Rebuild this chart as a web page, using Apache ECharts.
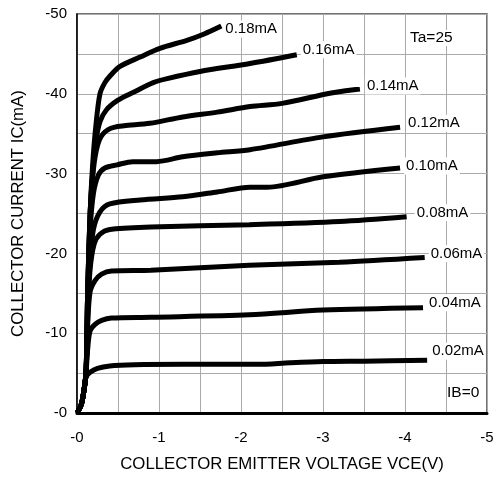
<!DOCTYPE html>
<html>
<head>
<meta charset="utf-8">
<script src="https://cdn.jsdelivr.net/npm/echarts@6/dist/echarts.min.js"></script>
<style>
html,body{margin:0;padding:0;background:#fff;}
#chart{width:497px;height:480px;}
</style>
</head>
<body>
<div id="chart"></div>
<script>
// Base current labels (IB)
const curveNames = ['0.18mA','0.16mA','0.14mA','0.12mA','0.10mA','0.08mA','0.06mA','0.04mA','0.02mA'];

// [VCE (V), IC (mA)]
const ib018 = [[0,0],[-0.05,-1],[-0.08,-2.5],[-0.11,-5],[-0.13,-15],[-0.16,-25],[-0.19,-31],[-0.23,-36],[-0.28,-40],[-0.34,-41.4],[-0.4,-42.2],[-0.52,-43.4],[-0.77,-44.6],[-1.01,-45.7],[-1.34,-46.7],[-1.55,-47.5],[-1.76,-48.5]];
const ib016 = [[0,0],[-0.05,-1],[-0.08,-2.5],[-0.11,-5],[-0.13,-15],[-0.16,-25],[-0.19,-30],[-0.23,-34],[-0.28,-36.5],[-0.36,-38.0],[-0.5,-39.2],[-0.69,-40.2],[-0.93,-41.4],[-1.1,-41.9],[-1.5,-42.8],[-2.11,-43.8],[-2.68,-44.9]];
const ib014 = [[0,0],[-0.05,-1],[-0.08,-2.5],[-0.11,-5],[-0.13,-15],[-0.16,-25],[-0.2,-30.5],[-0.25,-33.5],[-0.32,-35],[-0.45,-35.8],[-0.89,-36.3],[-1.29,-37.1],[-1.71,-37.7],[-2.11,-38.4],[-2.5,-38.8],[-3.1,-40.1],[-3.45,-40.6]];
const ib012 = [[0,0],[-0.05,-1],[-0.08,-2.5],[-0.11,-5],[-0.13,-15],[-0.16,-23],[-0.2,-27.5],[-0.26,-29.8],[-0.34,-30.7],[-0.49,-31.1],[-0.68,-31.5],[-0.97,-31.5],[-1.29,-32.1],[-1.71,-32.6],[-2.11,-33.0],[-3.0,-34.6],[-3.94,-35.8]];
const ib010 = [[0,0],[-0.05,-1],[-0.08,-2.5],[-0.11,-5],[-0.13,-13],[-0.16,-19],[-0.2,-23],[-0.28,-25.2],[-0.4,-26.2],[-0.77,-26.7],[-1.29,-27.1],[-1.71,-27.7],[-2.11,-28.3],[-2.32,-28.3],[-3.0,-29.6],[-3.94,-30.7]];
const ib008 = [[0,0],[-0.05,-1],[-0.08,-2.5],[-0.11,-5],[-0.13,-12],[-0.16,-18],[-0.21,-21.2],[-0.28,-22.4],[-0.4,-23.0],[-0.9,-23.3],[-2.1,-23.6],[-3.2,-24.0],[-4.02,-24.6]];
const ib006 = [[0,0],[-0.05,-1],[-0.08,-2.5],[-0.11,-5],[-0.13,-11],[-0.16,-15.2],[-0.22,-16.6],[-0.3,-17.4],[-0.42,-17.8],[-0.9,-17.9],[-2.1,-18.5],[-3.2,-18.9],[-4.24,-19.5]];
const ib004 = [[0,0],[-0.05,-1],[-0.08,-2.5],[-0.11,-5],[-0.13,-8],[-0.16,-10.3],[-0.22,-11.1],[-0.3,-11.6],[-0.42,-11.9],[-0.9,-12.0],[-2.1,-12.3],[-3.0,-12.9],[-4.22,-13.2]];
const ib002 = [[0,0],[-0.05,-1],[-0.08,-2.5],[-0.11,-4.5],[-0.16,-5.1],[-0.25,-5.6],[-0.4,-5.9],[-0.7,-6.05],[-1.3,-6.1],[-2.2,-6.1],[-2.6,-6.3],[-3.0,-6.45],[-3.5,-6.5],[-4.27,-6.6]];

const curves = [ib018, ib016, ib014, ib012, ib010, ib008, ib006, ib004, ib002];

// Axis ranges
const xMin = -5, xMax = 0, xStep = 1;
const yMin = -50, yMax = 0, yStep = 10;

// label offsets (style)
const labelOffsets = [[2,3],[4,-5],[5,-3],[6,-4],[4,-2],[8,-4],[4,-4],[4,-5],[3,-9]];

const fmt = v => (v === 0 ? '-0' : String(v));
const FONT = '"Liberation Sans", Arial, sans-serif';

const chart = echarts.init(document.getElementById('chart'), null, {renderer:'canvas'});
const series = curves.map((d, i) => ({
  type: 'line',
  name: curveNames[i],
  data: d,
  showSymbol: false,
  symbol: 'none',
  smooth: 0.3,
  animation: false,
  lineStyle: {color: '#000', width: 5},
  endLabel: {
    show: true,
    formatter: curveNames[i],
    color: '#000',
    fontFamily: FONT,
    fontSize: 15,
    backgroundColor: '#fff',
    padding: [1, 2],
    distance: 0,
    align: 'left',
    verticalAlign: 'middle',
    offset: labelOffsets[i]
  },
  z: 3
}));

chart.setOption({
  animation: false,
  backgroundColor: '#fff',
  grid: {left: 77, right: 10, top: 14, bottom: 67, show: true, borderColor: '#444', borderWidth: 1.5, backgroundColor: 'transparent'},
  xAxis: {
    type: 'value', min: xMin, max: xMax, interval: xStep, inverse: true,
    name: 'COLLECTOR EMITTER VOLTAGE VCE(V)', nameLocation: 'middle', nameGap: 43,
    nameTextStyle: {fontFamily: FONT, fontSize: 16.8, color: '#000'},
    axisLine: {show: true, onZero: false, lineStyle: {color: '#000', width: 3}},
    axisTick: {show: false},
    axisLabel: {formatter: fmt, fontFamily: FONT, fontSize: 15, color: '#000', margin: 17},
    splitLine: {show: true, lineStyle: {color: '#aaa', width: 1}},
    minorTick: {show: false, splitNumber: 2},
    minorSplitLine: {show: true, lineStyle: {color: '#aaa', width: 1}}
  },
  yAxis: {
    type: 'value', min: yMin, max: yMax, interval: yStep, inverse: true,
    name: 'COLLECTOR CURRENT IC(mA)', nameLocation: 'middle', nameGap: 50,
    nameTextStyle: {fontFamily: FONT, fontSize: 16.8, color: '#000'},
    axisLine: {show: true, onZero: false, lineStyle: {color: '#000', width: 1.5}},
    axisTick: {show: false},
    axisLabel: {formatter: fmt, fontFamily: FONT, fontSize: 15, color: '#000', margin: 10},
    splitLine: {show: true, lineStyle: {color: '#aaa', width: 1}},
    minorTick: {show: false, splitNumber: 2},
    minorSplitLine: {show: true, lineStyle: {color: '#aaa', width: 1}}
  },
  graphic: [
    {type: 'text', left: 410, top: 30, z: 10, style: {text: 'Ta=25', font: '15.5px ' + FONT, fill: '#000', backgroundColor: '#fff'}},
    {type: 'text', left: 447, top: 385, z: 10, style: {text: 'IB=0', font: '15.5px ' + FONT, fill: '#000', backgroundColor: '#fff'}}
  ],
  series: series
});
</script>
</body>
</html>
